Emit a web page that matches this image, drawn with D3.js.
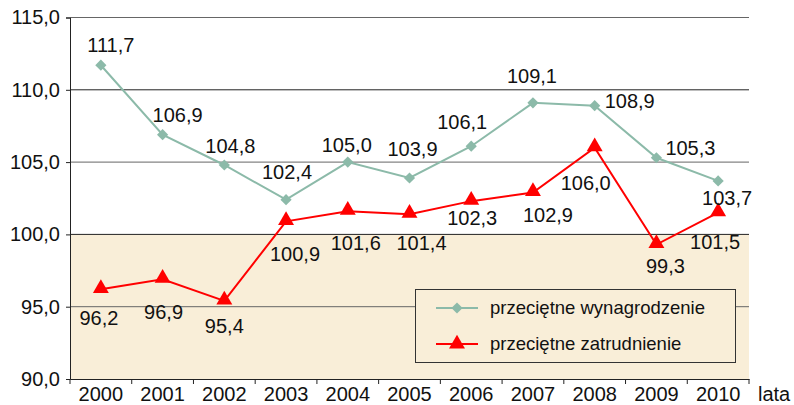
<!DOCTYPE html>
<html>
<head>
<meta charset="utf-8">
<script src="https://cdn.jsdelivr.net/npm/d3@7"></script>
<style>
  html, body { margin: 0; padding: 0; background: #fff; }
  svg { display: block; font-family: "Liberation Sans", Arial, sans-serif; }
</style>
</head>
<body>
<svg id="chart" width="794" height="405"></svg>
<script>
// ---- data ----
const years = ["2000","2001","2002","2003","2004","2005","2006","2007","2008","2009","2010"];
const wynagrodzenie = [111.7, 106.9, 104.8, 102.4, 105.0, 103.9, 106.1, 109.1, 108.9, 105.3, 103.7];
const zatrudnienie  = [96.2, 96.9, 95.4, 100.9, 101.6, 101.4, 102.3, 102.9, 106.0, 99.3, 101.5];
const yTicks = [90, 95, 100, 105, 110, 115];
const seriesNames = ["przeciętne wynagrodzenie", "przeciętne zatrudnienie"];
const xAxisTitle = "lata";

// ---- label placement (layout, px offsets from marker) ----
const wageLabelDx = [10, 15, 6, 1, -1, 3, -9, -1, 35, 34, 9];
const wageLabelDy = [-20, -20, -19, -28, -17, -29, -24, -27, -5, -10, 17];
const empLabelDx  = [-2, 1, 0, 9, 8, 12, 1, 15, -9, 9, -3];
const empLabelDy  = [28, 33, 25, 32, 32, 29, 17, 22, 35, 21, 29];

const wageColor = "#8cbaa9";
const empColor = "#ff0000";
const bgBeige = "#f9eed8";

const svg = d3.select("#chart");
const pLeft = 70, pRight = 749, pTop = 17.5, pBottom = 379;

const x = d3.scaleBand().domain(years).range([pLeft, pRight]);
const y = d3.scaleLinear().domain([90, 115]).range([pBottom, pTop]);
const fmt = v => d3.format(".1f")(v).replace(".", ",");
const cx = i => x(years[i]) + x.bandwidth() / 2;

// beige lower band
svg.append("rect")
  .attr("x", pLeft).attr("y", y(100))
  .attr("width", pRight - pLeft).attr("height", y(90) - y(100))
  .attr("fill", bgBeige);

// gridlines
svg.append("g").selectAll("line")
  .data(yTicks.filter(t => t > 90))
  .join("line")
  .attr("x1", pLeft).attr("x2", pRight)
  .attr("y1", d => y(d)).attr("y2", d => y(d))
  .attr("stroke", d => (d === 110 || d === 100) ? "#222" : "#666")
  .attr("stroke-width", 1);

// y axis
const yAxis = svg.append("g")
  .attr("transform", `translate(${pLeft},0)`)
  .call(d3.axisLeft(y).tickValues(yTicks).tickSize(4).tickPadding(6).tickFormat(fmt));
yAxis.select(".domain").attr("stroke", "#222");
yAxis.selectAll(".tick line").attr("stroke", "#222");
yAxis.selectAll("text").attr("font-size", 20).attr("fill", "#111")
  .attr("font-family", "Liberation Sans, Arial, sans-serif");

// x axis (labels at centers, ticks at band boundaries)
const xAxis = svg.append("g")
  .attr("transform", `translate(0,${pBottom})`)
  .call(d3.axisBottom(x).tickSize(0).tickPadding(8));
xAxis.select(".domain").attr("stroke", "#222");
xAxis.selectAll("text").attr("font-size", 20).attr("fill", "#111")
  .attr("font-family", "Liberation Sans, Arial, sans-serif");
svg.append("g").selectAll("line")
  .data(d3.range(years.length + 1))
  .join("line")
  .attr("x1", i => pLeft + i * x.step()).attr("x2", i => pLeft + i * x.step())
  .attr("y1", pBottom).attr("y2", pBottom + 5)
  .attr("stroke", "#222");
svg.append("text")
  .attr("x", 758).attr("y", pBottom + 16)
  .attr("dy", "0.32em")
  .attr("font-size", 20).attr("fill", "#111")
  .text(xAxisTitle);

// lines
const line = d3.line().x((d, i) => cx(i)).y(d => y(d));
svg.append("path").datum(wynagrodzenie)
  .attr("d", line).attr("fill", "none")
  .attr("stroke", wageColor).attr("stroke-width", 2);
svg.append("path").datum(zatrudnienie)
  .attr("d", line).attr("fill", "none")
  .attr("stroke", empColor).attr("stroke-width", 2);

const diamond = d3.symbol().type(d3.symbolDiamond2).size(80);
const triangle = d3.symbol().type(d3.symbolTriangle).size(110);

svg.append("g").selectAll("path")
  .data(wynagrodzenie)
  .join("path")
  .attr("d", diamond)
  .attr("transform", (d, i) => `translate(${cx(i)},${y(d)})`)
  .attr("fill", wageColor);

svg.append("g").selectAll("path")
  .data(zatrudnienie)
  .join("path")
  .attr("d", triangle)
  .attr("transform", (d, i) => `translate(${cx(i)},${y(d) - 1})`)
  .attr("fill", empColor);

// labels
svg.append("g").selectAll("text")
  .data(wynagrodzenie)
  .join("text")
  .attr("x", (d, i) => cx(i) + wageLabelDx[i])
  .attr("y", (d, i) => y(d) + wageLabelDy[i])
  .attr("dy", "0.36em")
  .attr("text-anchor", "middle")
  .attr("font-size", 20).attr("fill", "#111")
  .text(fmt);

svg.append("g").selectAll("text")
  .data(zatrudnienie)
  .join("text")
  .attr("x", (d, i) => cx(i) + empLabelDx[i])
  .attr("y", (d, i) => y(d) + empLabelDy[i])
  .attr("dy", "0.36em")
  .attr("text-anchor", "middle")
  .attr("font-size", 20).attr("fill", "#111")
  .text(fmt);

// legend
const lg = svg.append("g");
lg.append("rect")
  .attr("x", 415.5).attr("y", 289.5).attr("width", 320).attr("height", 73)
  .attr("fill", bgBeige).attr("stroke", "#333").attr("stroke-width", 1);
const legendItems = [
  { name: seriesNames[0], color: wageColor, sym: diamond, yy: 308 },
  { name: seriesNames[1], color: empColor, sym: triangle, yy: 344 }
];
legendItems.forEach(it => {
  lg.append("line").attr("x1", 436).attr("x2", 478)
    .attr("y1", it.yy).attr("y2", it.yy)
    .attr("stroke", it.color).attr("stroke-width", 2);
  lg.append("path").attr("d", it.sym)
    .attr("transform", `translate(457,${it.yy})`)
    .attr("fill", it.color);
  lg.append("text").attr("x", 490).attr("y", it.yy)
    .attr("dy", "0.33em")
    .attr("font-size", 18.5).attr("fill", "#111")
    .text(it.name);
});
</script>
</body>
</html>
